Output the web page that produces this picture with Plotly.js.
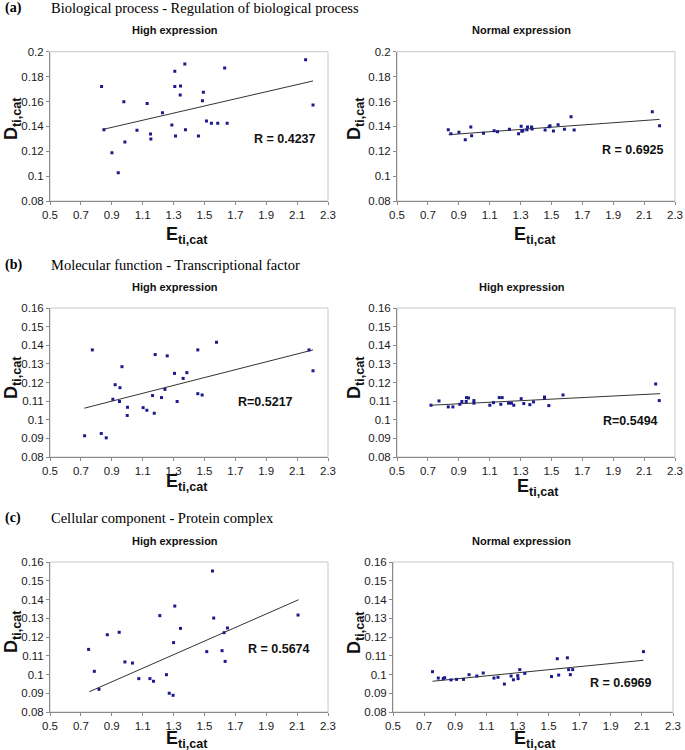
<!DOCTYPE html>
<html>
<head>
<meta charset="utf-8">
<script src="https://cdn.plot.ly/plotly-3.0.1.min.js"></script>
<style>html,body{margin:0;padding:0;background:#fff;}#chart{width:685px;height:750px;}</style>
</head>
<body>
<div id="chart"></div>
<script>
// ---- Data ----
const panelHeadings = ["Biological process - Regulation of biological process", "Molecular function - Transcriptional factor", "Cellular component - Protein complex"];
const panelLetters = ["(a)", "(b)", "(c)"];
const subTitles = ["High expression", "Normal expression", "High expression", "High expression", "High expression", "Normal expression"];
const rLabels = ["R = 0.4237", "R = 0.6925", "R=0.5217", "R=0.5494", "R = 0.5674", "R = 0.6969"];
const xTitle = "E<sub>ti,cat</sub>";
const yTitle = "D<sub>ti,cat</sub>";
const xTickVals = [0.5, 0.7, 0.9, 1.1, 1.3, 1.5, 1.7, 1.9, 2.1, 2.3];
const yTicksA = [0.08, 0.1, 0.12, 0.14, 0.16, 0.18, 0.2];
const yTicksBC = [0.08, 0.09, 0.1, 0.11, 0.12, 0.13, 0.14, 0.15, 0.16];

const aHighX = [0.834,0.849,0.901,0.942,0.978,0.985,1.063,1.129,1.151,1.153,1.228,1.289,1.308,1.308,1.313,1.343,1.345,1.373,1.377,1.461,1.487,1.493,1.513,1.545,1.586,1.631,1.647,2.155,2.203];
const aHighY = [0.172,0.1373,0.1187,0.1027,0.1597,0.1275,0.1368,0.1584,0.1339,0.1299,0.1509,0.1411,0.172,0.1843,0.1323,0.1651,0.1725,0.1901,0.1373,0.1323,0.1605,0.1675,0.1443,0.1424,0.1424,0.1869,0.1424,0.1936,0.1571];
const aHighTrendX = [0.845, 2.203];
const aHighTrendY = [0.1376, 0.1765];

const aNormX = [0.832,0.849,0.901,0.942,0.978,0.983,1.060,1.129,1.151,1.228,1.287,1.304,1.308,1.315,1.341,1.345,1.371,1.375,1.459,1.485,1.491,1.513,1.543,1.584,1.627,1.647,2.153,2.200];
const aNormY = [0.1373,0.1341,0.1352,0.1293,0.1395,0.1325,0.1344,0.1365,0.1357,0.1376,0.1341,0.140,0.136,0.1365,0.1373,0.1395,0.1395,0.1379,0.1371,0.1397,0.1405,0.1363,0.1413,0.1376,0.1477,0.1371,0.1517,0.1405];
const aNormTrendX = [0.834, 2.200];
const aNormTrendY = [0.1333, 0.1456];

const bHighX = [0.724,0.774,0.832,0.864,0.907,0.922,0.950,0.953,0.966,1.000,1.002,1.103,1.127,1.164,1.175,1.181,1.222,1.244,1.259,1.306,1.323,1.362,1.386,1.457,1.457,1.485,1.578,2.177,2.203];
const bHighY = [0.0914,0.1375,0.0926,0.0903,0.111,0.1188,0.1098,0.1172,0.1285,0.1023,0.1067,0.1065,0.1051,0.113,0.1035,0.135,0.1119,0.1163,0.1343,0.1249,0.1098,0.1222,0.1253,0.1375,0.114,0.1133,0.1416,0.1375,0.1263];
const bHighTrendX = [0.722, 2.203];
const bHighTrendY = [0.1062, 0.1375];

const bNormX = [0.720,0.772,0.832,0.862,0.907,0.920,0.948,0.950,0.963,0.998,0.998,1.101,1.125,1.162,1.172,1.181,1.222,1.241,1.256,1.304,1.321,1.360,1.384,1.455,1.455,1.483,1.575,2.175,2.198];
const bNormY = [0.1078,0.1101,0.1069,0.1069,0.1083,0.1098,0.1098,0.1119,0.1117,0.1103,0.1089,0.1078,0.1092,0.1119,0.1083,0.1119,0.1089,0.1089,0.1078,0.1113,0.1087,0.1081,0.1096,0.1122,0.1117,0.1076,0.1133,0.1192,0.1103];
const bNormTrendX = [0.720, 2.203];
const bNormTrendY = [0.1078, 0.1140];

const cHighX = [0.750,0.787,0.817,0.871,0.948,0.985,1.034,1.075,1.147,1.170,1.211,1.254,1.272,1.297,1.300,1.308,1.345,1.515,1.552,1.560,1.614,1.627,1.634,1.649,2.106];
const cHighY = [0.1134,0.1017,0.0921,0.1212,0.1225,0.1067,0.1061,0.0978,0.0978,0.0964,0.1314,0.0999,0.0900,0.0889,0.117,0.1365,0.1246,0.1122,0.1552,0.1301,0.1127,0.1223,0.107,0.1248,0.1317];
const cHighTrendX = [0.754, 2.110];
const cHighTrendY = [0.0908, 0.1399];

const cNormX = [0.754,0.791,0.823,0.832,0.873,0.909,0.953,0.989,1.039,1.080,1.149,1.175,1.216,1.259,1.274,1.302,1.304,1.315,1.347,1.519,1.556,1.565,1.621,1.629,1.640,1.655,2.110];
const cNormY = [0.1015,0.0981,0.0978,0.0983,0.0971,0.0974,0.0974,0.0999,0.0992,0.1008,0.0981,0.0985,0.0949,0.0992,0.0972,0.0994,0.0978,0.1026,0.1006,0.0989,0.1084,0.0997,0.1089,0.1026,0.0999,0.1026,0.1122];
const cNormTrendX = [0.754, 2.110];
const cNormTrendY = [0.0964, 0.1076];

// ---- Layout helpers ----
const W = 685, H = 750;
const px = v => v / W;
const py = v => 1 - v / H;

const series = [
  {x: aHighX, y: aHighY, tx: aHighTrendX, ty: aHighTrendY, box: [50, 328, 51.7, 201], yr: [0.08, 0.2], yt: yTicksA, sub: [175, 30], r: [252, 139], xt: [187, 235], ytl: [12, 119]},
  {x: aNormX, y: aNormY, tx: aNormTrendX, ty: aNormTrendY, box: [397, 675, 51.7, 201], yr: [0.08, 0.2], yt: yTicksA, sub: [521.5, 30], r: [600, 150], xt: [535, 235], ytl: [355, 119]},
  {x: bHighX, y: bHighY, tx: bHighTrendX, ty: bHighTrendY, box: [50, 328, 308, 457], yr: [0.08, 0.16], yt: yTicksBC, sub: [175, 286.5], r: [236, 401.5], xt: [187, 482], ytl: [12, 378]},
  {x: bNormX, y: bNormY, tx: bNormTrendX, ty: bNormTrendY, box: [397, 675, 308, 457], yr: [0.08, 0.16], yt: yTicksBC, sub: [521.5, 286.5], r: [600.5, 420.5], xt: [538, 488], ytl: [355, 378]},
  {x: cHighX, y: cHighY, tx: cHighTrendX, ty: cHighTrendY, box: [50, 328, 562, 712], yr: [0.08, 0.16], yt: yTicksBC, sub: [175, 541], r: [245.5, 649], xt: [187, 739.5], ytl: [12, 632]},
  {x: cNormX, y: cNormY, tx: cNormTrendX, ty: cNormTrendY, box: [393, 673, 562, 712], yr: [0.08, 0.16], yt: yTicksBC, sub: [521, 541], r: [588, 682.5], xt: [535, 739.5], ytl: [355, 633]}
];

const FONT = "Arial, 'Liberation Sans', sans-serif";
const SERIF = "'Times New Roman', 'Liberation Serif', serif";
const traces = [];
const layout = {
  width: W, height: H,
  margin: {l: 0, r: 0, t: 0, b: 0},
  paper_bgcolor: '#ffffff', plot_bgcolor: '#ffffff',
  showlegend: false,
  font: {family: FONT, color: '#111'},
  annotations: [], shapes: []
};

series.forEach((s, i) => {
  const k = i === 0 ? '' : String(i + 1);
  const xa = 'x' + k, ya = 'y' + k;
  traces.push({
    type: 'scatter', mode: 'lines', x: s.tx, y: s.ty,
    xaxis: xa, yaxis: ya, line: {color: '#333333', width: 1}, hoverinfo: 'skip'
  });
  traces.push({
    type: 'scatter', mode: 'markers', x: s.x, y: s.y, xaxis: xa, yaxis: ya,
    marker: {symbol: 'square', size: 3, color: '#1a1a8c'}, hoverinfo: 'x+y'
  });
  const [l, r, t, b] = s.box;
  layout['xaxis' + k] = {
    domain: [px(l), px(r)], anchor: ya, range: [0.5, 2.3],
    tickmode: 'array', tickvals: xTickVals, ticktext: xTickVals.map(v => String(v)),
    showgrid: false, zeroline: false, showline: true, linecolor: '#8a8a8a', linewidth: 1,
    ticks: 'outside', ticklen: 3, tickcolor: '#8a8a8a',
    tickfont: {family: FONT, size: 11.5, color: '#1a1a1a'},
    fixedrange: true
  };
  layout['yaxis' + k] = {
    domain: [py(b), py(t)], anchor: xa, range: s.yr,
    tickmode: 'array', tickvals: s.yt, ticktext: s.yt.map(v => String(v)),
    showgrid: false, zeroline: false, showline: true, linecolor: '#8a8a8a', linewidth: 1,
    ticks: 'outside', ticklen: 3, tickcolor: '#8a8a8a',
    tickfont: {family: FONT, size: 11.5, color: '#1a1a1a'},
    fixedrange: true
  };
  layout.shapes.push({type: 'rect', xref: xa + ' domain', yref: ya + ' domain', x0: 0, x1: 1, y0: 0, y1: 1,
    line: {color: '#c8c8c8', width: 1}, layer: 'below'});
  layout.annotations.push({xref: 'paper', yref: 'paper', x: px(s.sub[0]), y: py(s.sub[1]), xanchor: 'center', yanchor: 'middle',
    text: '<b>' + subTitles[i] + '</b>', showarrow: false, font: {family: FONT, size: 11, color: '#111'}});
  layout.annotations.push({xref: 'paper', yref: 'paper', x: px(s.r[0]), y: py(s.r[1]), xanchor: 'left', yanchor: 'middle',
    text: '<b>' + rLabels[i] + '</b>', showarrow: false, font: {family: FONT, size: 12.5, color: '#111'}});
  // axis titles
  layout.annotations.push({xref: 'paper', yref: 'paper', x: px(s.xt[0]), y: py(s.xt[1]), xanchor: 'center', yanchor: 'middle',
    text: '<b>' + xTitle + '</b>', showarrow: false, font: {family: FONT, size: 18, color: '#111'}});
  layout.annotations.push({xref: 'paper', yref: 'paper', x: px(s.ytl[0]), y: py(s.ytl[1]), xanchor: 'center', yanchor: 'middle',
    textangle: -90, text: '<b>' + yTitle + '</b>', showarrow: false, font: {family: FONT, size: 18, color: '#111'}});
});

const headY = [8, 265, 518];
panelLetters.forEach((L, i) => {
  layout.annotations.push({xref: 'paper', yref: 'paper', x: px(3), y: py(headY[i]), xanchor: 'left', yanchor: 'middle',
    text: '<b>' + L + '</b>', showarrow: false, font: {family: SERIF, size: 14, color: '#000'}});
  layout.annotations.push({xref: 'paper', yref: 'paper', x: px(49), y: py(headY[i]), xanchor: 'left', yanchor: 'middle',
    text: panelHeadings[i], showarrow: false, font: {family: SERIF, size: 14.5, color: '#000'}});
});

Plotly.newPlot('chart', traces, layout, {displayModeBar: false, staticPlot: true});
</script>
</body>
</html>
